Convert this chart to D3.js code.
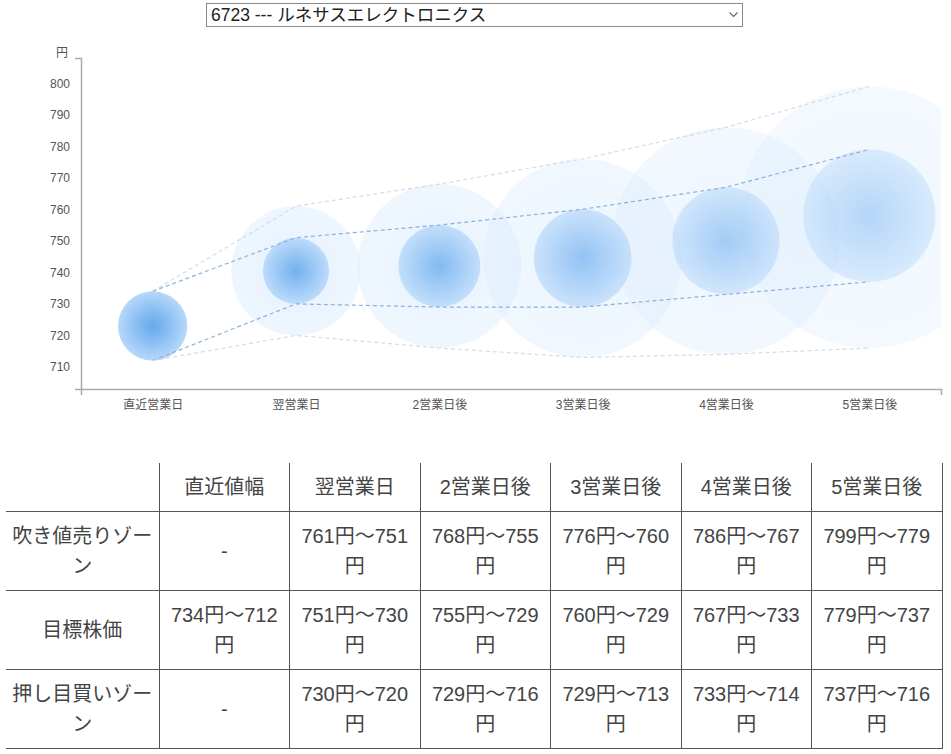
<!DOCTYPE html>
<html lang="ja">
<head>
    <meta charset="UTF-8">
    <script src="https://d3js.org/d3.v7.min.js"></script>
    <title>6723 ルネサスエレクトロニクス</title>
    <style>
        body { margin: 0; background: #fff; font-family: "Liberation Sans", Arial, "Noto Sans CJK JP", sans-serif; }
        #picker { position: absolute; left: 206px; top: 3px; width: 537px; height: 24px; font-size: 17.5px;
                  font-family: "Liberation Sans", Arial, "Noto Sans CJK JP", sans-serif; color: #222;
                  border: 1px solid #8a8a8a; border-radius: 0; background: #fff; padding: 0 4px;
                  appearance: none; -webkit-appearance: none; }
        #chevron { position: absolute; left: 728px; top: 10px; }
        #chart { position: absolute; left: 0; top: 0; }
        #chart text { font-family: "Liberation Sans", Arial, "Noto Sans CJK JP", sans-serif; }
        #zone { position: absolute; left: 6px; top: 463px; width: 936px; border-collapse: collapse;
                table-layout: fixed; font-size: 20px; color: #444; }
        #zone td, #zone th { border-right: 1px solid #555; border-bottom: 1px solid #555;
                text-align: center; font-weight: normal; line-height: 30px; padding: 9px 5px; }
        #zone th { padding: 9px 5px 9px; }
    </style>
</head>
<body>
    <select id="picker"><option>6723 --- ルネサスエレクトロニクス</option></select>
    <svg id="chevron" width="12" height="10"><path d="M1.5,2.5 L5.5,6.5 L9.5,2.5" fill="none" stroke="#666" stroke-width="1.1"/></svg>
    <div id="chart"></div>
    <table id="zone"></table>
    <script>
        // chart data
        var categories = ["直近営業日", "翌営業日", "2営業日後", "3営業日後", "4営業日後", "5営業日後"];
        var tableHeads = ["直近値幅", "翌営業日", "2営業日後", "3営業日後", "4営業日後", "5営業日後"];
        var rowNames = ["吹き値売りゾーン", "目標株価", "押し目買いゾーン"];
        var sellHigh   = [null, 761, 768, 776, 786, 799];
        var sellLow    = [null, 751, 755, 760, 767, 779];
        var targetHigh = [734, 751, 755, 760, 767, 779];
        var targetLow  = [712, 730, 729, 729, 733, 737];
        var buyHigh    = [null, 730, 729, 729, 733, 737];
        var buyLow     = [null, 720, 716, 713, 714, 716];
        var yTicks = [710, 720, 730, 740, 750, 760, 770, 780, 790, 800];

        var width = 951;
        var height = 425;
        var margin = {top: 58, right: 10, bottom: 36, left: 81};
        var plotW = width - margin.left - margin.right;
        var plotH = height - margin.top - margin.bottom;

        var svg = d3.select("#chart")
                    .append("svg")
                    .attr("width", width)
                    .attr("height", height);

        var x = d3.scalePoint()
                  .domain(categories)
                  .range([0, plotW])
                  .padding(0.5);

        var y = d3.scaleLinear()
                  .domain([d3.min(targetLow) - 9, d3.max(sellHigh) + 9])
                  .range([plotH, 0]);

        var defs = svg.append("defs");
        defs.append("clipPath")
            .attr("id", "plotClip")
            .append("rect")
            .attr("width", plotW)
            .attr("height", plotH);

        var inner = defs.append("radialGradient").attr("id", "innerGrad");
        inner.append("stop").attr("offset", "0%").attr("stop-color", "#64a8ee");
        inner.append("stop").attr("offset", "100%").attr("stop-color", "#b6d8fa");

        var outer = defs.append("radialGradient").attr("id", "outerGrad");
        outer.append("stop").attr("offset", "0%").attr("stop-color", "#cfe5fc").attr("stop-opacity", 0.6);
        outer.append("stop").attr("offset", "85%").attr("stop-color", "#d8eafd").attr("stop-opacity", 0.5);
        outer.append("stop").attr("offset", "100%").attr("stop-color", "#dcecfd").attr("stop-opacity", 0.55);

        var g = svg.append("g")
                   .attr("transform", `translate(${margin.left}, ${margin.top})`);

        // axes
        var yAxis = g.append("g")
                     .call(d3.axisLeft(y).tickValues(yTicks).tickFormat(d3.format("d"))
                             .tickSizeInner(0).tickSizeOuter(6).tickPadding(11));
        var xAxis = g.append("g")
                     .attr("transform", `translate(0, ${plotH})`)
                     .call(d3.axisBottom(x).tickSizeInner(0).tickSizeOuter(6).tickPadding(11));

        [xAxis, yAxis].forEach(a => {
            a.select(".domain").attr("stroke", "#aaa").attr("stroke-width", 1.5);
            a.selectAll("text").attr("fill", "#555").attr("font-size", 12);
        });

        g.append("text")
         .attr("x", -13)
         .attr("y", -1)
         .attr("text-anchor", "end")
         .attr("fill", "#555")
         .attr("font-size", 12)
         .text("円");

        var days = categories.map((c, i) => ({
            name: c,
            i: i,
            top: sellHigh[i] == null ? targetHigh[i] : sellHigh[i],
            bottom: buyLow[i] == null ? targetLow[i] : buyLow[i],
            tHigh: targetHigh[i],
            tLow: targetLow[i]
        }));
        var fade = d3.scaleLinear().domain([0, categories.length - 1]).range([1, 0.42]);

        var bubbles = g.append("g").attr("clip-path", "url(#plotClip)");

        // outer zone circles
        bubbles.selectAll(".zone")
               .data(days.filter(d => sellHigh[d.i] != null))
               .enter()
               .append("circle")
               .attr("class", "zone")
               .attr("cx", d => x(d.name))
               .attr("cy", d => y((d.top + d.bottom) / 2))
               .attr("r", d => (y(d.bottom) - y(d.top)) / 2)
               .attr("fill", "url(#outerGrad)")
               .attr("opacity", d => 0.3 + 0.7 * fade(d.i));

        // target circles
        bubbles.selectAll(".target")
               .data(days)
               .enter()
               .append("circle")
               .attr("class", "target")
               .attr("cx", d => x(d.name))
               .attr("cy", d => y((d.tHigh + d.tLow) / 2))
               .attr("r", d => (y(d.tLow) - y(d.tHigh)) / 2)
               .attr("fill", "url(#innerGrad)")
               .attr("opacity", d => fade(d.i));

        // dashed range lines
        var line = d3.line()
                     .x(d => x(d.name))
                     .y(d => y(d.v));
        var paths = [
            {vals: days.map(d => d.top), color: "#d3dce8"},
            {vals: targetHigh, color: "#8cb0da"},
            {vals: targetLow, color: "#8cb0da"},
            {vals: days.map(d => d.bottom), color: "#d3dce8"}
        ];
        g.selectAll(".range")
         .data(paths)
         .enter()
         .append("path")
         .attr("class", "range")
         .attr("d", p => line(p.vals.map((v, i) => ({name: categories[i], v: v}))))
         .attr("fill", "none")
         .attr("stroke", p => p.color)
         .attr("stroke-width", 1.2)
         .attr("stroke-dasharray", "4,3");

        // table
        var fmt = (hi, lo) => hi == null ? "-" : `${hi}円～${lo}円`;
        var table = d3.select("#zone");
        var colgroup = table.append("colgroup");
        colgroup.append("col").attr("width", 153);
        tableHeads.forEach(() => colgroup.append("col").attr("width", 130.5));

        var head = table.append("tr");
        head.append("th");
        head.selectAll(".h").data(tableHeads).enter().append("th").attr("class", "h").text(d => d);

        var rows = [
            {name: rowNames[0], cells: categories.map((c, i) => fmt(sellHigh[i], sellLow[i]))},
            {name: rowNames[1], cells: categories.map((c, i) => fmt(targetHigh[i], targetLow[i]))},
            {name: rowNames[2], cells: categories.map((c, i) => fmt(buyHigh[i], buyLow[i]))}
        ];
        var tr = table.selectAll(".row").data(rows).enter().append("tr").attr("class", "row");
        tr.append("td").text(d => d.name);
        tr.selectAll(".cell").data(d => d.cells).enter().append("td").attr("class", "cell").text(d => d);
    </script>
</body>
</html>
